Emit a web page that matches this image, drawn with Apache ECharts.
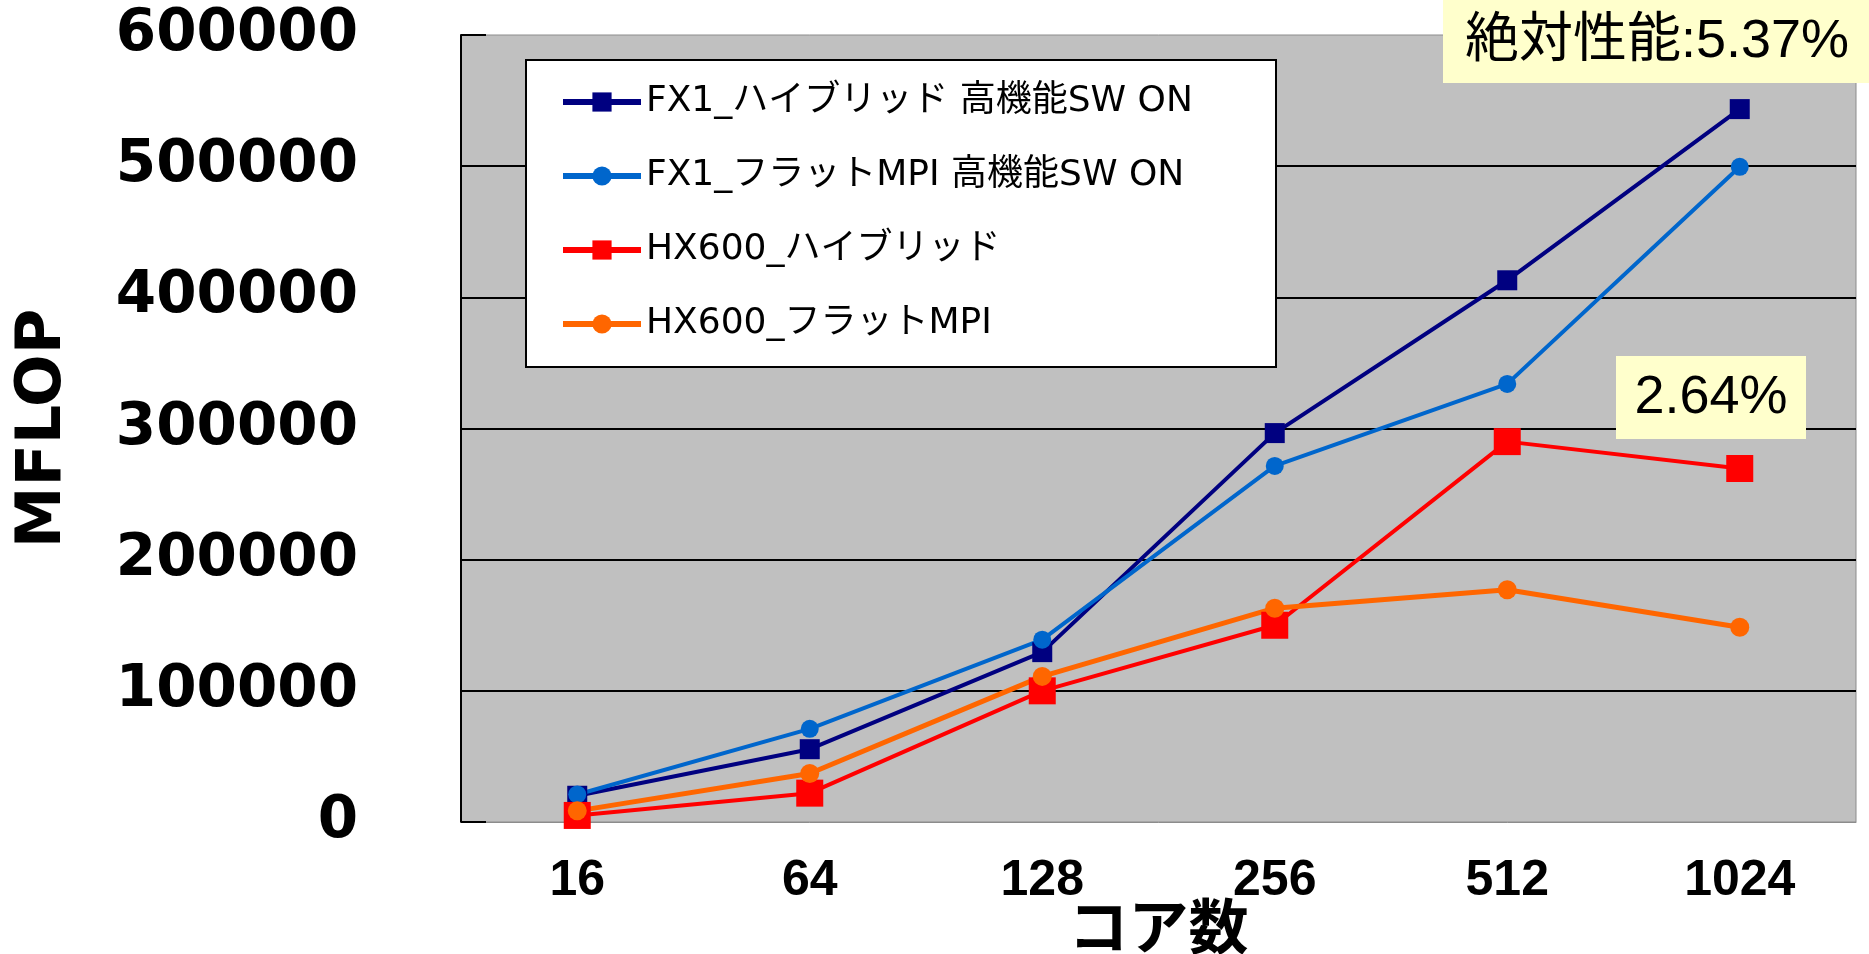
<!DOCTYPE html>
<html>
<head>
<meta charset="utf-8">
<script src="https://cdn.jsdelivr.net/npm/echarts@6/dist/echarts.min.js"></script>
<style>
  html, body { margin: 0; padding: 0; background: #fff; }
  #main { width: 1869px; height: 954px; }
</style>
</head>
<body>
<div id="main"></div>
<script>
// コア数 (x軸)
const cores = ['16', '64', '128', '256', '512', '1024'];
// 系列名
const names = [
  'FX1_ハイブリッド 高機能SW ON',
  'FX1_フラットMPI 高機能SW ON',
  'HX600_ハイブリッド',
  'HX600_フラットMPI'
];
// MFLOP の値
const fx1Hybrid = [20000, 55500, 129500, 296500, 413000, 543500];
const fx1Flat = [21000, 71000, 139000, 271500, 334000, 499500];
const hxHybrid = [5000, 22000, 100000, 150000, 290000, 269500];
const hxFlat = [8500, 37000, 111000, 163000, 177000, 148500];
// 注記
const noteTop = '絶対性能:5.37%';
const noteMid = '2.64%';

const jpFont = '"Noto Sans CJK JP", sans-serif';
const legendFont = '"DejaVu Sans", "Noto Sans CJK JP", sans-serif';
const numFont = '"Liberation Sans", "Noto Sans CJK JP", sans-serif';

const chart = echarts.init(document.getElementById('main'));

chart.setOption({
  animation: false,
  backgroundColor: '#ffffff',
  grid: {
    left: 461,
    right: 13,
    top: 35,
    bottom: 132,
    outerBoundsMode: 'none',
    containLabel: false,
    show: true,
    backgroundColor: '#c0c0c0',
    borderColor: '#8c8c8c',
    borderWidth: 1
  },
  legend: {
    orient: 'vertical',
    left: 560,
    top: 84,
    padding: 0,
    itemGap: 38,
    itemWidth: 78,
    itemHeight: 24,
    z: 6,
    lineStyle: { width: 6 },
    textStyle: { fontFamily: legendFont, fontSize: 36, color: '#000' },
    data: names
  },
  xAxis: {
    type: 'category',
    data: cores,
    boundaryGap: true,
    name: 'コア数',
    nameLocation: 'middle',
    nameGap: 74,
    nameMoveOverlap: false,
    nameTextStyle: { fontFamily: jpFont, fontSize: 60, fontWeight: 'bold', color: '#000' },
    axisLine: { lineStyle: { color: '#8c8c8c', width: 1 } },
    axisTick: { show: false },
    axisLabel: {
      margin: 34,
      fontFamily: numFont,
      fontSize: 50,
      fontWeight: 'bold',
      color: '#000'
    }
  },
  yAxis: {
    type: 'value',
    min: 0,
    max: 600000,
    interval: 100000,
    name: 'MFLOP',
    nameLocation: 'middle',
    nameGap: 386,
    nameMoveOverlap: false,
    nameRotate: 90,
    nameTextStyle: { fontFamily: '"DejaVu Sans", sans-serif', fontSize: 62, fontWeight: 'bold', color: '#000' },
    axisLine: { show: true, lineStyle: { color: '#000', width: 2 } },
    axisTick: { show: true, inside: true, length: 25, lineStyle: { color: '#000', width: 2 } },
    axisLabel: {
      margin: 103,
      fontFamily: '"DejaVu Sans", sans-serif',
      fontSize: 58,
      fontWeight: 'bold',
      color: '#000',
      formatter: function (v) { return String(v); }
    },
    splitLine: {
      show: true,
      showMinLine: false,
      showMaxLine: false,
      lineStyle: { color: '#000', width: 2 }
    }
  },
  series: [
    {
      name: names[0],
      type: 'line',
      data: fx1Hybrid,
      symbol: 'rect',
      symbolSize: 20,
      color: '#000080',
      lineStyle: { width: 4, color: '#000080' },
      itemStyle: { color: '#000080' }
    },
    {
      name: names[1],
      type: 'line',
      data: fx1Flat,
      symbol: 'circle',
      symbolSize: 18,
      color: '#0066cc',
      lineStyle: { width: 4, color: '#0066cc' },
      itemStyle: { color: '#0066cc' }
    },
    {
      name: names[2],
      type: 'line',
      data: hxHybrid,
      symbol: 'rect',
      symbolSize: 27,
      color: '#ff0000',
      lineStyle: { width: 4, color: '#ff0000' },
      itemStyle: { color: '#ff0000' }
    },
    {
      name: names[3],
      type: 'line',
      data: hxFlat,
      symbol: 'circle',
      symbolSize: 19,
      color: '#ff6600',
      lineStyle: { width: 5, color: '#ff6600' },
      itemStyle: { color: '#ff6600' }
    }
  ],
  graphic: [
    // 凡例の枠
    {
      type: 'rect',
      z: 5,
      shape: { x: 526, y: 60, width: 750, height: 307 },
      style: { fill: '#ffffff', stroke: '#000', lineWidth: 2 }
    },
    // 注記 1
    {
      type: 'rect',
      z: 7,
      shape: { x: 1443, y: 0, width: 426, height: 83 },
      style: { fill: '#ffffcc' }
    },
    {
      type: 'text',
      z: 8,
      x: 1657,
      y: 42,
      style: {
        text: noteTop,
        fontFamily: numFont,
        fontSize: 54,
        fill: '#000',
        align: 'center',
        verticalAlign: 'middle'
      }
    },
    // 注記 2
    {
      type: 'rect',
      z: 7,
      shape: { x: 1616, y: 356, width: 190, height: 83 },
      style: { fill: '#ffffcc' }
    },
    {
      type: 'text',
      z: 8,
      x: 1711,
      y: 398,
      style: {
        text: noteMid,
        fontFamily: numFont,
        fontSize: 54,
        fill: '#000',
        align: 'center',
        verticalAlign: 'middle'
      }
    }
  ]
});
</script>
</body>
</html>
